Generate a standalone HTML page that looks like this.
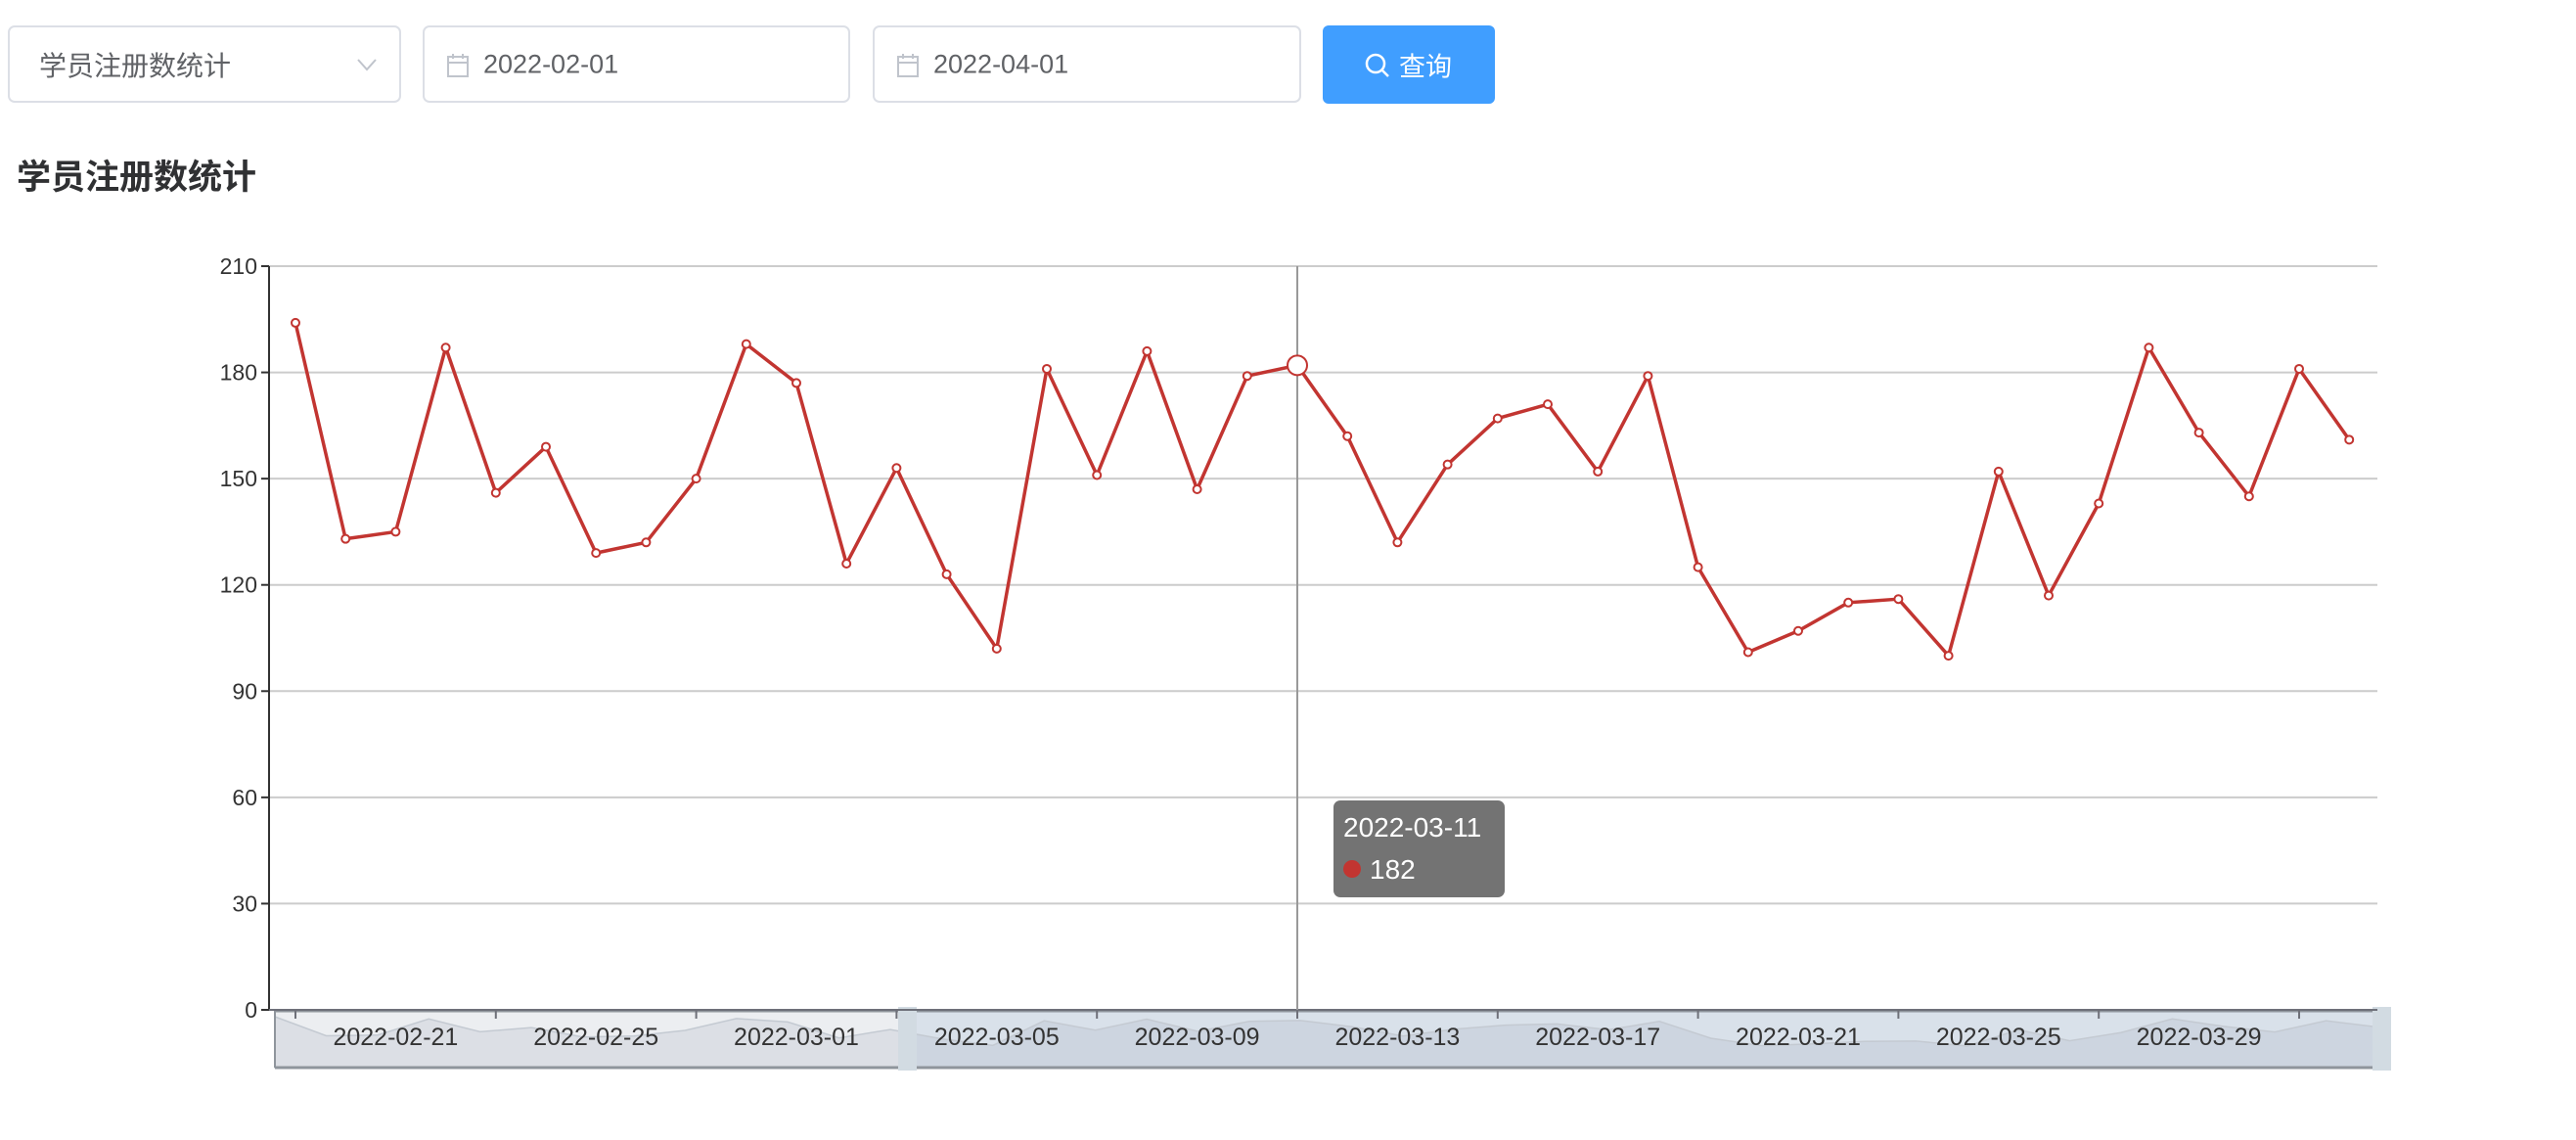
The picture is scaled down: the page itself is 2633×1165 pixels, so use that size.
<!DOCTYPE html>
<html><head><meta charset="utf-8">
<style>
html,body{margin:0;padding:0;background:#fff;width:2633px;height:1165px;overflow:hidden;font-family:"Liberation Sans","Noto Sans CJK SC",sans-serif;}
.box{position:absolute;box-sizing:border-box;border:2px solid #dcdfe6;border-radius:7px;background:#fff;color:#606266;font-size:27px;}
.box span{position:absolute;top:50%;transform:translateY(-50%);white-space:nowrap;}
#chart{position:absolute;left:0;top:0;}
</style></head><body>
<div class="box" style="left:8px;top:26px;width:402px;height:79px;">
  <span style="left:30px;font-size:28px;">学员注册数统计</span>
  <svg style="position:absolute;right:22px;top:30px" width="22" height="16"><polyline points="2,3 11,13 20,3" fill="none" stroke="#c0c4cc" stroke-width="2"/></svg>
</div>
<div class="box" style="left:432px;top:26px;width:437px;height:79px;">
  <svg style="position:absolute;left:22px;top:26px" width="24" height="26"><rect x="2" y="4" width="20" height="20" fill="none" stroke="#c0c4cc" stroke-width="2"/><line x1="2" y1="10" x2="22" y2="10" stroke="#c0c4cc" stroke-width="2"/><line x1="7" y1="1" x2="7" y2="6" stroke="#c0c4cc" stroke-width="2"/><line x1="17" y1="1" x2="17" y2="6" stroke="#c0c4cc" stroke-width="2"/></svg>
  <span style="left:60px;">2022-02-01</span>
</div>
<div class="box" style="left:892px;top:26px;width:438px;height:79px;">
  <svg style="position:absolute;left:22px;top:26px" width="24" height="26"><rect x="2" y="4" width="20" height="20" fill="none" stroke="#c0c4cc" stroke-width="2"/><line x1="2" y1="10" x2="22" y2="10" stroke="#c0c4cc" stroke-width="2"/><line x1="7" y1="1" x2="7" y2="6" stroke="#c0c4cc" stroke-width="2"/><line x1="17" y1="1" x2="17" y2="6" stroke="#c0c4cc" stroke-width="2"/></svg>
  <span style="left:60px;">2022-04-01</span>
</div>
<div style="position:absolute;left:1352px;top:26px;width:176px;height:80px;background:#409eff;border-radius:6px;color:#fff;font-size:27px;">
  <svg style="position:absolute;left:42px;top:27px" width="28" height="28"><circle cx="12" cy="12" r="9" fill="none" stroke="#fff" stroke-width="2.5"/><line x1="18.5" y1="18.5" x2="25" y2="25" stroke="#fff" stroke-width="2.5"/></svg>
  <span style="position:absolute;left:78px;top:50%;transform:translateY(-50%);">查询</span>
</div>
<div style="position:absolute;left:17px;top:153px;font-size:35px;font-weight:bold;color:#303133;">学员注册数统计</div>
<svg id="chart" width="2633" height="1165"></svg>
<script>
const startDate = "2022-02-19";
const seriesValues = [194,133,135,187,146,159,129,132,150,188,177,126,153,123,102,181,151,186,147,179,182,162,132,154,167,171,152,179,125,101,107,115,116,100,152,117,143,187,163,145,181,161];
const yTicks = [0,30,60,90,120,150,180,210];
const highlightIndex = 20;
</script>
<script>
(function(){
const dates=[];const p=startDate.split('-').map(Number);const d0=new Date(Date.UTC(p[0],p[1]-1,p[2]));
for(let i=0;i<seriesValues.length;i++){const d=new Date(d0.getTime()+i*86400000);dates.push(d.toISOString().slice(0,10));}
const svg=document.getElementById('chart');const NS='http://www.w3.org/2000/svg';
function el(t,a,p){const e=document.createElementNS(NS,t);for(const k in a)e.setAttribute(k,a[k]);(p||svg).appendChild(e);return e;}
const gL=275,gR=2430,gT=272,gB=1032,x0=302,step=51.2;
const xs=i=>x0+i*step;
const ys=v=>gB-(v-0)/(210-0)*(gB-gT);
yTicks.forEach(v=>{
  if(v>0){const g=el('line',{x1:gL,x2:gR,y1:ys(v),y2:ys(v),stroke:'#cccccc','stroke-width':2});
  
  }
  el('line',{x1:gL-8,x2:gL,y1:ys(v),y2:ys(v),stroke:'#333','stroke-width':2});
  const t=el('text',{x:gL-12,y:ys(v)+8,'text-anchor':'end','font-size':23,fill:'#333','font-family':'Liberation Sans, sans-serif'});
  t.textContent=v;
  
  
});
const ya=el('line',{x1:gL,x2:gL,y1:gT,y2:gB,stroke:'#333','stroke-width':2});


const sL=281,sR=2430,sT=1033,sB=1091,hX=918;
const sb=el('rect',{x:sL,y:sT,width:sR-sL,height:sB-sT,fill:'#eceef1'});


el('rect',{x:hX+10,y:sT,width:sR-hX-10,height:sB-sT,fill:'#d9e1ea'});
const vmin=Math.min(...seriesValues),vmax=Math.max(...seriesValues);
const sx=i=>sL+i*(sR-sL)/(seriesValues.length-1);
const sy=v=>sT+6+(vmax-v)/(vmax-vmin)*30;
let sp=seriesValues.map((v,i)=>sx(i)+','+sy(v)).join(' ');
const sh=el('polygon',{points:sL+','+sB+' '+sp+' '+sR+','+sB,fill:'rgba(170,180,195,0.25)',stroke:'#c4cad2','stroke-width':1.5});


el('line',{x1:sL,x2:sR,y1:sT,y2:sT,stroke:'#8f959c','stroke-width':3});
el('line',{x1:sL,x2:sR,y1:sB,y2:sB,stroke:'#8f959c','stroke-width':3});
el('line',{x1:sL,x2:sL,y1:sT,y2:sB,stroke:'#8f959c','stroke-width':2});
const h1=el('rect',{x:hX,y:1029,width:19,height:65,fill:'#d2dbe2'});


const h2=el('rect',{x:2425,y:1029,width:19,height:65,fill:'#d2dbe2'});


const xa=el('line',{x1:gL,x2:gR,y1:gB,y2:gB,stroke:'#6e7079','stroke-width':2});


for(let i=0;i<seriesValues.length;i+=4){el('line',{x1:xs(i),x2:xs(i),y1:gB,y2:gB+9,stroke:'#6e7079','stroke-width':2});}
for(let i=2;i<seriesValues.length;i+=4){
  const t=el('text',{x:xs(i),y:1068,'text-anchor':'middle','font-size':25,fill:'#333','font-family':'Liberation Sans, sans-serif'});
  t.textContent=dates[i];
  
  
}
el('line',{x1:xs(highlightIndex),x2:xs(highlightIndex),y1:gT,y2:gB,stroke:'#999','stroke-width':2});
const pts=seriesValues.map((v,i)=>xs(i)+','+ys(v)).join(' ');
const ln=el('polyline',{points:pts,fill:'none',stroke:'#c23531','stroke-width':3.5,'stroke-linejoin':'round'});


seriesValues.forEach((v,i)=>{
  const c=el('circle',{cx:xs(i),cy:ys(v),r:i===highlightIndex?10:4,fill:'#fff',stroke:'#c23531','stroke-width':2});
  
  
});
const tx=1363,ty=818;
const tb=el('rect',{x:tx,y:ty,width:175,height:99,rx:7,fill:'rgba(80,80,80,0.8)'});


const t1=el('text',{x:tx+10,y:ty+37,'font-size':28,fill:'#fff','font-family':'Liberation Sans, sans-serif'});
t1.textContent=dates[highlightIndex];
el('circle',{cx:tx+19,cy:ty+70,r:9,fill:'#c23531'});
const t2=el('text',{x:tx+37,y:ty+80,'font-size':28,fill:'#fff','font-family':'Liberation Sans, sans-serif'});
t2.textContent=seriesValues[highlightIndex];
})();
</script>
</body></html>
